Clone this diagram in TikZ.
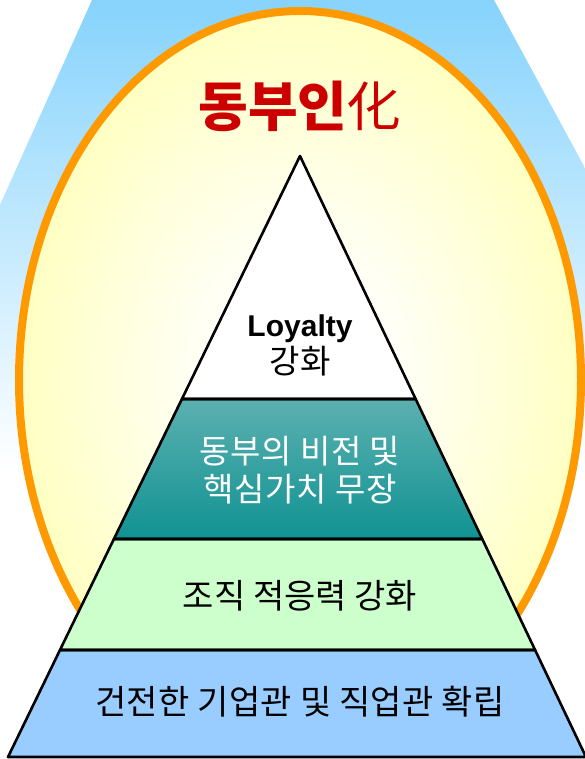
\documentclass[tikz,border=0pt]{standalone}
\usepackage{fontspec}
\newfontfamily\kr{Noto Sans CJK KR}
\newfontfamily\arialfont{Liberation Sans}
\usetikzlibrary{calc}
\definecolor{skyblue}{RGB}{134,211,252}
\definecolor{sunyellow}{RGB}{255,255,140}
\definecolor{sunorange}{RGB}{255,153,0}
\definecolor{tealtop}{RGB}{92,176,176}
\definecolor{tealbot}{RGB}{16,146,146}
\definecolor{mintgreen}{RGB}{204,255,204}
\definecolor{layerblue}{RGB}{153,204,255}
\definecolor{titlered}{RGB}{204,0,0}
\pgfdeclareradialshading{sunglow}{\pgfpoint{0bp}{0bp}}{color(0bp)=(white); color(6bp)=(white); color(42bp)=(sunyellow); color(100bp)=(sunyellow)}
\tikzset{
  layer/.style={draw=black, line width=2.6pt, line join=round},
  krtext/.style 2 args={font=\kr\addfontfeatures{LetterSpace=#2}\fontsize{#1}{#1}\selectfont, anchor=base, inner sep=0pt},
}
\begin{document}
\begin{tikzpicture}[x=1pt,y=-1pt]
\useasboundingbox (0,0) rectangle (585,759);
% sky background
\shade[top color=skyblue, bottom color=white]
  (92,0) -- (494,0) -- (585,168) -- (585,470) -- (0,470) -- (0,205) -- cycle;
% sun ellipse
\path[shading=sunglow, draw=sunorange, line width=8pt]
  (300,380) ellipse [x radius=281pt, y radius=369pt];
% title
\node[text=titlered, font=\kr\fontsize{54}{60}\selectfont, inner sep=0pt] (title) at (300,106)
  {\bfseries 동부인\mdseries 化};
% pyramid coordinates
\coordinate (A) at (300,156);
\coordinate (BL) at (8,757);
\coordinate (BR) at (586,757);
\coordinate (L1) at ($(A)!0.4043!(BL)$);
\coordinate (R1) at ($(A)!0.4043!(BR)$);
\coordinate (L2) at ($(A)!0.6373!(BL)$);
\coordinate (R2) at ($(A)!0.6373!(BR)$);
\coordinate (L3) at ($(A)!0.8220!(BL)$);
\coordinate (R3) at ($(A)!0.8220!(BR)$);
% layers
\fill[layerblue] (L3) -- (R3) -- (BR) -- (BL) -- cycle;
\fill[mintgreen] (L2) -- (R2) -- (R3) -- (L3) -- cycle;
\shade[top color=tealtop, bottom color=tealbot] (L1) -- (R1) -- (R2) -- (L2) -- cycle;
\fill[white] (A) -- (R1) -- (L1) -- cycle;
\draw[layer] (A) -- (R1) -- (L1) -- cycle;
\draw[layer] (L1) -- (R1) -- (R2) -- (L2) -- cycle;
\draw[layer] (L2) -- (R2) -- (R3) -- (L3) -- cycle;
\draw[layer] (L3) -- (R3) -- (BR) -- (BL) -- cycle;
% texts
\node[font=\arialfont\bfseries\fontsize{30}{30}\selectfont, anchor=base, inner sep=0pt] (loyalty) at (300,336) {Loyalty};
\node[krtext={33}{3}] (gh) at (300,373) {강화};
\node[krtext={33}{2}, text=white] (vis1) at (300,463) {동부의 비전 및};
\node[krtext={33}{2}, text=white] (vis2) at (300,501) {핵심가치 무장};
\node[krtext={34}{0}] (org) at (300,608) {조직 적응력 강화};
\node[krtext={34}{1}] (base) at (300,714) {건전한 기업관 및 직업관 확립};
\end{tikzpicture}
\end{document}
